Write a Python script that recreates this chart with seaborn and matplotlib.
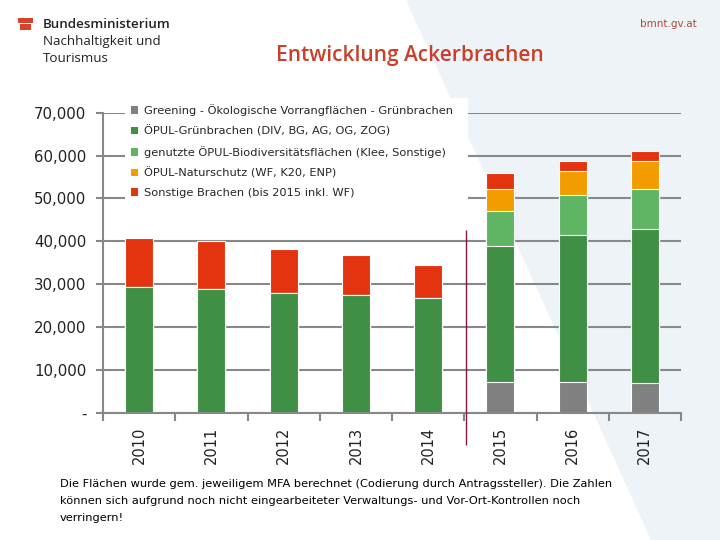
import numpy as np
import pandas as pd
import matplotlib
matplotlib.use("Agg")
import matplotlib.pyplot as plt
from matplotlib.patches import Patch, Polygon, Rectangle
from matplotlib.ticker import FuncFormatter, FixedLocator
import seaborn as sns

# data (hectares)
years = ['2010', '2011', '2012', '2013', '2014', '2015', '2016', '2017']
greening = [0, 0, 0, 0, 0, 7250, 7250, 7000]
oepul_gruen = [29460, 29000, 28080, 27540, 26700, 31750, 34350, 35800]
biodiv = [0, 0, 0, 0, 0, 8100, 9300, 9500]
naturschutz = [0, 0, 0, 0, 0, 5200, 5400, 6500]
sonstige = [11390, 11000, 10220, 9360, 7900, 3600, 2500, 2300]

series_labels = [
    'Greening - Ökologische Vorrangflächen - Grünbrachen',
    'ÖPUL-Grünbrachen (DIV, BG, AG, OG, ZOG)',
    'genutzte ÖPUL-Biodiversitätsflächen (Klee, Sonstige)',
    'ÖPUL-Naturschutz (WF, K20, ENP)',
    'Sonstige Brachen (bis 2015 inkl. WF)',
]
series_values = [greening, oepul_gruen, biodiv, naturschutz, sonstige]
colors = ['#808080', '#3f8f45', '#5fb563', '#f39c00', '#e3330f']

sns.set_theme(style='white')
plt.rcParams['font.family'] = ['DejaVu Sans']

# cumulative heights for stacking
df = pd.DataFrame({'year': years})
cum = np.zeros(len(years))
cum_cols = []
for i, vals in enumerate(series_values):
    cum = cum + np.array(vals)
    col = f'cum{i}'
    df[col] = cum
    cum_cols.append(col)

fig = plt.figure(figsize=(7.2, 5.4), dpi=100)
fig.patch.set_facecolor('#eef3f7')
# white slanted background on the left
fig.patches.append(Polygon([(0, 1), (406 / 720, 1), (651 / 720, 0), (0, 0)],
                           closed=True, transform=fig.transFigure,
                           facecolor='white', edgecolor='none', zorder=-10))

ax = fig.add_axes([103 / 720, 1 - 413 / 540, 578 / 720, (413 - 112.7) / 540])
ax.set_facecolor('none')

# draw from top of stack down so lower layers cover upper ones
for col, c in zip(reversed(cum_cols), reversed(colors)):
    sns.barplot(data=df, x='year', y=col, order=years, color=c, saturation=1,
                width=0.39, edgecolor='white', linewidth=0.8, ax=ax)

ax.set_xlim(-0.5, 7.5)
ax.set_ylim(0, 70000)
ax.set_yticks(np.arange(0, 70001, 10000))
ax.yaxis.set_major_formatter(FuncFormatter(lambda v, p: '-' if v == 0 else f'{v:,.0f}'))
ax.set_xlabel('')
ax.set_ylabel('')

ax.yaxis.grid(True, color='#888888', linewidth=1.5)
ax.xaxis.grid(False)
ax.set_axisbelow(True)

for s in ['top', 'right']:
    ax.spines[s].set_visible(False)
for s in ['left', 'bottom']:
    ax.spines[s].set_color('#888888')
    ax.spines[s].set_linewidth(1.5)

ax.tick_params(axis='y', length=5, width=1.5, color='#888888', pad=7,
               labelsize=10.8, labelcolor='#222222', left=True)
ax.xaxis.set_minor_locator(FixedLocator(np.arange(-0.5, 8, 1)))
ax.tick_params(axis='x', which='minor', length=6, width=1.5, color='#888888',
               direction='out', bottom=True)
ax.tick_params(axis='x', which='major', length=0, pad=10, labelsize=10.5,
               labelcolor='#222222', labelrotation=90)

# separator line between 2014 and 2015
ax.vlines(4.53, -7500, 42600, color='#8b1a3a', linewidth=1, clip_on=False, zorder=3)

# white legend box
fig.patches.append(Rectangle((125 / 720, 1 - 210 / 540), 343 / 720, 112 / 540,
                             transform=fig.transFigure, facecolor='white',
                             edgecolor='none', zorder=1))
handles = [Patch(facecolor=c, edgecolor='none') for c in colors]
fig.legend(handles, series_labels, loc='upper left',
           bbox_to_anchor=(131 / 720, 1 - 104 / 540), frameon=False,
           fontsize=8.2, handlelength=0.65, handleheight=0.65, handletextpad=0.45,
           labelspacing=0.82, borderpad=0, borderaxespad=0)

# header
fig.patches.append(Rectangle((18 / 720, 1 - 23 / 540), 15 / 720, 5 / 540,
                             transform=fig.transFigure, facecolor='#d6422a', edgecolor='none'))
fig.patches.append(Rectangle((19.5 / 720, 1 - 29.5 / 540), 12 / 720, 5 / 540,
                             transform=fig.transFigure, facecolor='#d6422a', edgecolor='none'))
fig.text(43 / 720, 1 - 25 / 540, 'Bundesministerium', fontsize=9.6,
         family=['Open Sans', 'DejaVu Sans'], fontweight='semibold',
         color='#222222', va='center')
fig.text(43 / 720, 1 - 42 / 540, 'Nachhaltigkeit und', fontsize=9.6,
         family=['Open Sans', 'DejaVu Sans'],
         color='#222222', va='center')
fig.text(43 / 720, 1 - 58 / 540, 'Tourismus', fontsize=9.6,
         family=['Open Sans', 'DejaVu Sans'],
         color='#222222', va='center')
fig.text(697 / 720, 1 - 24 / 540, 'bmnt.gv.at', fontsize=7.5, color='#b5483a',
         ha='right', va='center')
fig.text(410 / 720, 1 - 56 / 540, 'Entwicklung Ackerbrachen', fontsize=15,
         family=['Open Sans', 'DejaVu Sans'], fontweight='semibold',
         color='#c8402a', ha='center', va='center')

# footnote
fig.text(60 / 720, 1 - 479 / 540,
         'Die Flächen wurde gem. jeweiligem MFA berechnet (Codierung durch Antragssteller). Die Zahlen\n'
         'können sich aufgrund noch nicht eingearbeiteter Verwaltungs- und Vor-Ort-Kontrollen noch\n'
         'verringern!',
         fontsize=8.2, color='#000000', va='top', ha='left', linespacing=1.9)

fig.savefig('out.png', dpi=100, facecolor=fig.get_facecolor())
